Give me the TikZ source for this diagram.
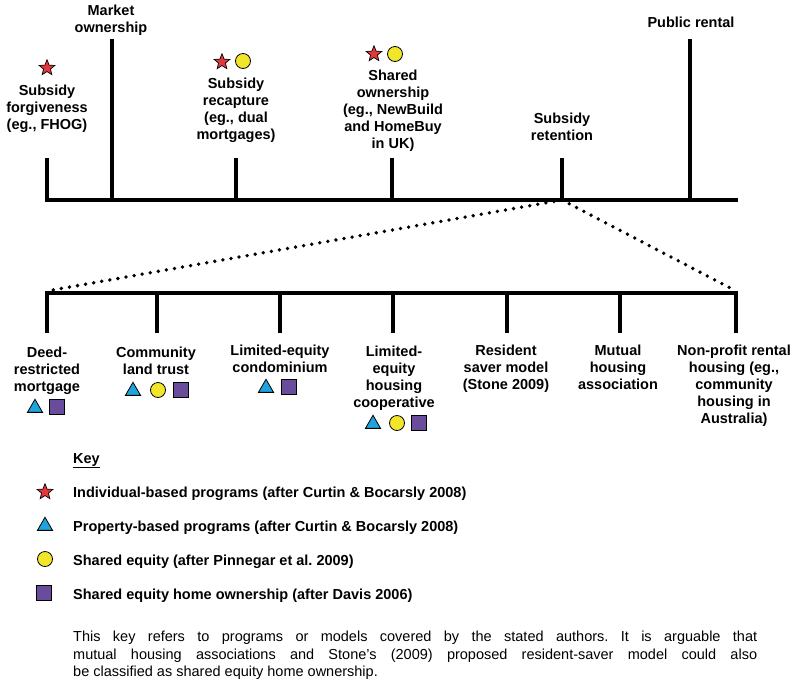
\documentclass[tikz,border=0pt]{standalone}
\usepackage{fontspec}
\setmainfont{Liberation Sans}
\usetikzlibrary{shapes.geometric}
\definecolor{starred}{HTML}{E0383C}
\definecolor{tricyan}{HTML}{1EA3DC}
\definecolor{circyellow}{HTML}{F2E62A}
\definecolor{sqpurple}{HTML}{6A4C9C}
\frenchspacing
\begin{document}
\begin{tikzpicture}[x=1pt,y=-1pt,
  lbl/.style={font=\bfseries\fontsize{14.5}{17}\selectfont, align=center, inner sep=0pt, anchor=north},
  keytxt/.style={font=\bfseries\fontsize{14.5}{17}\selectfont, inner sep=0pt, anchor=base west},
  bar/.style={line width=4pt},
  dots/.style={line width=3.8pt, line cap=round, dash pattern=on 0pt off 8.2pt},
  stsym/.style={star, star points=5, star point ratio=2.3, fill=starred, draw=black, line width=0.7pt, minimum size=16.5pt, inner sep=0pt},
  trisym/.style={regular polygon, regular polygon sides=3, fill=tricyan, draw=black, line width=0.8pt, minimum size=17.5pt, inner sep=0pt},
  cisym/.style={circle, fill=circyellow, draw=black, line width=0.8pt, minimum size=15pt, inner sep=0pt},
  sqsym/.style={rectangle, fill=sqpurple, draw=black, line width=0.8pt, minimum size=14.5pt, inner sep=0pt}
]
\useasboundingbox (0,0) rectangle (797,686);
\fill[white] (0,0) rectangle (797,686);

% ---------- top axis ----------
\coordinate (tL) at (45,200);
\coordinate (tR) at (738,200);
\draw[bar] (tL) -- (tR);
\coordinate (t1b) at (47,200);  \coordinate (t1t) at (47,158);
\coordinate (t2b) at (112,200); \coordinate (t2t) at (112,39);
\coordinate (t3b) at (236,200); \coordinate (t3t) at (236,158);
\coordinate (t4b) at (392,200); \coordinate (t4t) at (392,158);
\coordinate (t5b) at (562,200); \coordinate (t5t) at (562,158);
\coordinate (t6b) at (690,200); \coordinate (t6t) at (690,39);
\foreach \i in {1,...,6} \draw[bar] (t\i b) -- (t\i t);

\node[lbl] (market) at (111,4.5) {Market\\ownership};
\node[lbl] (public) at (691,16.5) {Public rental};

\node[stsym] (s1) at (47,68) {};
\node[lbl] (forg) at (47,84.5) {Subsidy\\forgiveness\\(eg., FHOG)};

\node[stsym] (s2) at (222,62) {};
\node[cisym] (c2) at (243,61) {};
\node[lbl] (recap) at (236,78) {Subsidy\\recapture\\(eg., dual\\mortgages)};

\node[stsym] (s3) at (374,54) {};
\node[cisym] (c3) at (395,54) {};
\node[lbl] (shared) at (393,70) {Shared\\ownership\\(eg., NewBuild\\and HomeBuy\\in UK)};

\node[lbl] (retent) at (562,113) {Subsidy\\retention};

% ---------- dotted expansion ----------
\coordinate (bL) at (45,293);
\coordinate (bR) at (738,293);
\coordinate (dL) at (47,291);
\coordinate (dR) at (736,291);
\draw[dots] (t5b) -- (dL);
\draw[dots] (t5b) -- (dR);

% ---------- bottom axis ----------
\draw[bar] (bL) -- (bR);
\coordinate (b1t) at (47,293);  \coordinate (b1b) at (47,333);
\coordinate (b2t) at (157,293); \coordinate (b2b) at (157,333);
\coordinate (b3t) at (280,293); \coordinate (b3b) at (280,333);
\coordinate (b4t) at (393,293); \coordinate (b4b) at (393,333);
\coordinate (b5t) at (507,293); \coordinate (b5b) at (507,333);
\coordinate (b6t) at (620,293); \coordinate (b6b) at (620,333);
\coordinate (b7t) at (736,293); \coordinate (b7b) at (736,333);
\foreach \i in {1,...,7} \draw[bar] (b\i t) -- (b\i b);

\node[lbl] (deed) at (47,346.5) {Deed-\\restricted\\mortgage};
\node[trisym] (d1) at (35,408) {};
\node[sqsym] (d2) at (57,407) {};

\node[lbl] (clt) at (156,346.5) {Community\\land trust};
\node[trisym] (l1) at (133,391) {};
\node[cisym] (l2) at (158,390) {};
\node[sqsym] (l3) at (181,390) {};

\node[lbl] (lec) at (280,345) {Limited-equity\\condominium};
\node[trisym] (e1) at (266,388) {};
\node[sqsym] (e2) at (289,387) {};

\node[lbl] (lehc) at (394,345.5) {Limited-\\equity\\housing\\cooperative};
\node[trisym] (h1) at (373,424) {};
\node[cisym] (h2) at (397,423) {};
\node[sqsym] (h3) at (419,423) {};

\node[lbl] (rsm) at (506,345) {Resident\\saver model\\(Stone 2009)};
\node[lbl] (mha) at (618,345) {Mutual\\housing\\association};
\node[lbl] (npr) at (734,345) {Non-profit rental\\housing (eg.,\\community\\housing in\\Australia)};

% ---------- key ----------
\node[keytxt] (key) at (73,463) {\underline{Key}};
\node[stsym] (k1) at (45,492) {};
\node[keytxt] (k1t) at (73,497.5) {Individual-based programs (after Curtin \& Bocarsly 2008)};
\node[trisym] (k2) at (45,526) {};
\node[keytxt] (k2t) at (73,531) {Property-based programs (after Curtin \& Bocarsly 2008)};
\node[cisym] (k3) at (45,559) {};
\node[keytxt] (k3t) at (73,565) {Shared equity (after Pinnegar et al. 2009)};
\node[sqsym] (k4) at (44,593) {};
\node[keytxt] (k4t) at (73,599) {Shared equity home ownership (after Davis 2006)};

\node[inner sep=0pt, anchor=north west, align=left, font=\fontsize{14.5}{17.5}\selectfont] (para) at (73,631)
 {\makebox[684pt][s]{This key refers to programs or models covered by the stated authors. It is arguable that}\\
  \makebox[684pt][s]{mutual housing associations and Stone's (2009) proposed resident-saver model could also}\\
  be classified as shared equity home ownership.};
\end{tikzpicture}
\end{document}
